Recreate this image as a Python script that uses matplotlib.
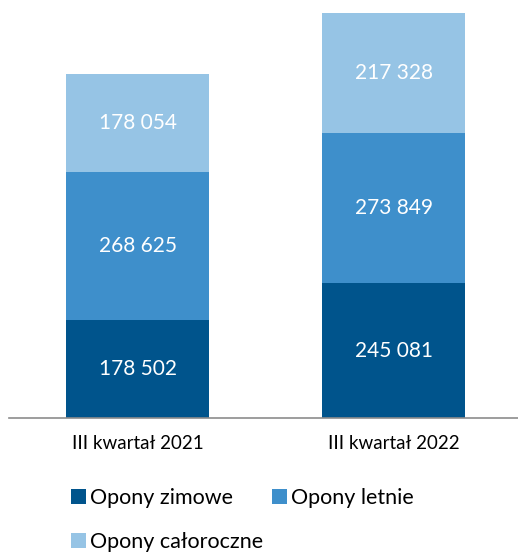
import matplotlib.pyplot as plt
import numpy as np

categories = ['III kwartał 2021', 'III kwartał 2022']
zimowe = [178502, 245081]
letnie = [268625, 273849]
caloroczne = [178054, 217328]
series_names = ['Opony zimowe', 'Opony letnie', 'Opony całoroczne']
colors = ['#00548C', '#3E8FCB', '#96C4E5']

plt.rcParams['font.family'] = ['Lato', 'DejaVu Sans']

fig = plt.figure(figsize=(5.18, 5.53), dpi=100)
ax = fig.add_axes([9/518, 135/553, 509/518, 405/553])

x = np.arange(len(categories))
width = 0.56
bottom = np.zeros(len(categories))
bars = []
for vals, name, col in zip([zimowe, letnie, caloroczne], series_names, colors):
    b = ax.bar(x, vals, width, bottom=bottom, color=col, label=name)
    for xi, v, bt in zip(x, vals, bottom):
        ax.text(xi, bt + v / 2, f'{v:,}'.replace(',', ' '), ha='center', va='center',
                color='white', fontsize=15)
    bars.append(b)
    bottom += np.array(vals)

ax.set_xlim(-0.502, 1.486)
ax.set_ylim(0, sum([zimowe[1], letnie[1], caloroczne[1]]))
for s in ['top', 'right', 'left']:
    ax.spines[s].set_visible(False)
ax.spines['bottom'].set_color('#8C8C8C')
ax.spines['bottom'].set_linewidth(1.2)
ax.set_yticks([])
ax.set_xticks(x)
ax.set_xticklabels(categories, fontsize=13.5)
ax.tick_params(axis='x', length=0, pad=12)

handles = [bars[0], bars[2], bars[1]]
labels = [series_names[0], series_names[2], series_names[1]]
fig.legend(handles, labels, ncol=2, loc='center left', bbox_to_anchor=(71/518, 1 - 520/553),
           frameon=False, fontsize=15.5, borderpad=0, borderaxespad=0,
           handlelength=0.7, handleheight=0.7, handletextpad=0.2,
           labelspacing=1.15, columnspacing=0.4)

fig.savefig('out.png', dpi=100)
